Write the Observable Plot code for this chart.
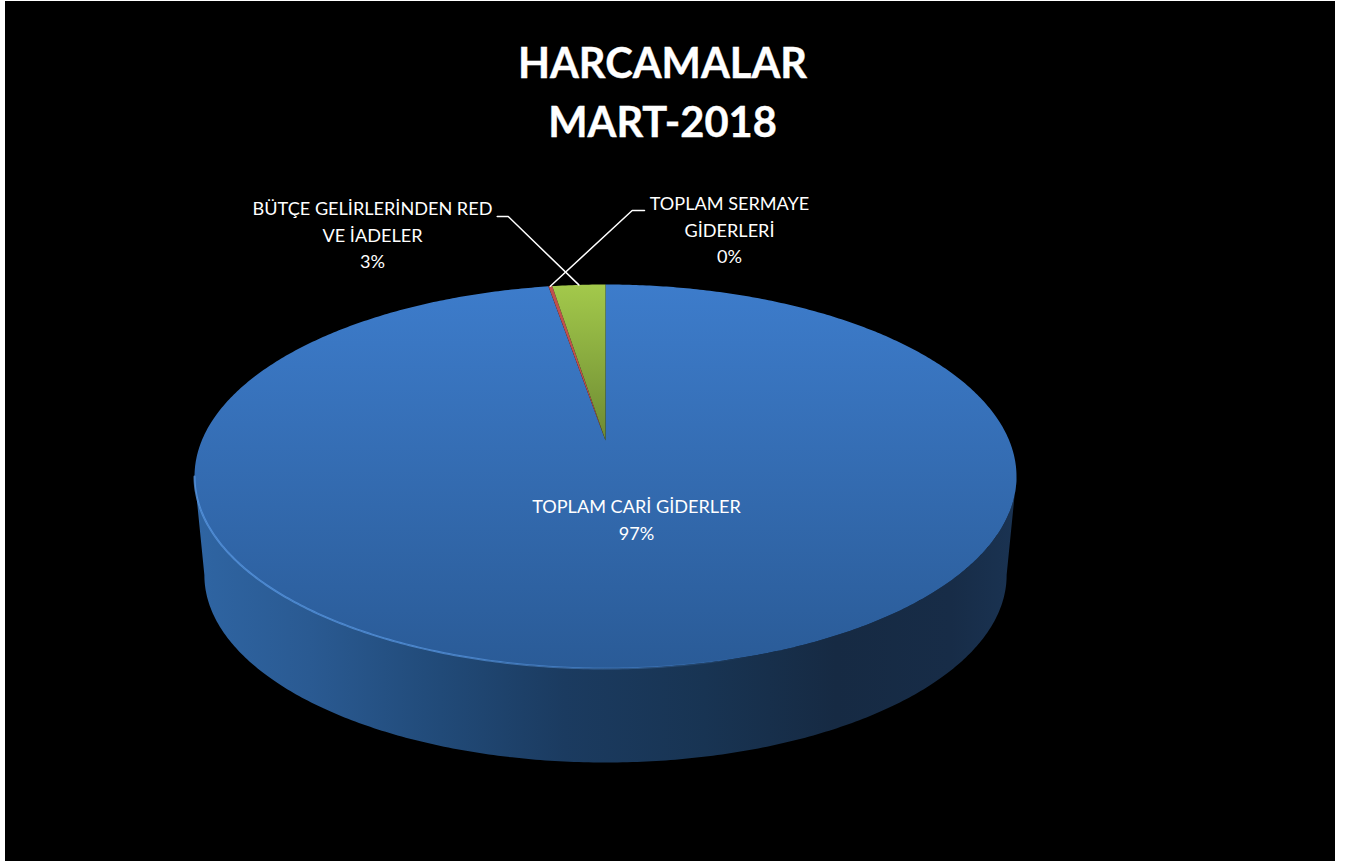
<!DOCTYPE html>
<html lang="tr">
<head>
<meta charset="utf-8">
<title>HARCAMALAR MART-2018</title>
<script src="https://cdn.jsdelivr.net/npm/d3@7"></script>
<script src="https://cdn.jsdelivr.net/npm/@observablehq/plot@0.6"></script>
<style>
  html, body { margin: 0; padding: 0; background: #fff; overflow: hidden; }
  #sheet { position: absolute; left: 5px; top: 1px; width: 1330px; height: 860px; background: #000; }
  #title { position: absolute; left: 0; top: 32px; width: 1315px; text-align: center; color: #fff;
           font: 700 41.6px/59px Lato, sans-serif; -webkit-text-stroke: 0.4px #fff; }
  #chart { position: absolute; left: 0; top: 169px; }
  #chart svg { display: block; background: #000; }
</style>
</head>
<body>
<div id="sheet">
  <div id="title">HARCAMALAR<br>MART-2018</div>
  <div id="chart"></div>
</div>
<script>
// ---- data (clockwise from 12 o'clock) ----
const categories = ["TOPLAM CARİ GİDERLER", "TOPLAM SERMAYE GİDERLERİ", "BÜTÇE GELİRLERİNDEN RED VE İADELER"];
const shares = [97.32, 0.18, 2.5];
const labelLines = ["TOPLAM CARİ GİDERLER", "TOPLAM SERMAYE\nGİDERLERİ", "BÜTÇE GELİRLERİNDEN RED\nVE İADELER"];
const fills = ["url(#topBlue)", "#c0504d", "url(#topGreen)"];

// ---- layout: svg size, pie projection, label placement (svg pixels) ----
const W = 1330, H = 691;
const apexX = 600, apexY = 270;      // pie centre as seen in perspective
const radX = 403.7, radY = 185.25;   // horizontal / vertical projected radius
const persp = 0.1875;                // perspective foreshortening
const wallDrop = 0.537;              // depth of the wall, in y units
const wallShrink = 0.976;            // base is slightly smaller than the top
const labelAt = [[631, 324], [724, 21], [367, 26]];
const elbows = [null, [[626.7, 40], [639, 40]], [[502.7, 46], [491.7, 46]]];

const toX = (px) => (px - apexX) / radX;
const toY = (py) => (apexY - py) / radY;

// project a rim point at angle t (radians clockwise from 12 o'clock)
const rim = (t, r = 1, base = false) => {
  const X = Math.sin(t) * r, Y = Math.cos(t) * r, d = 1 + persp * Y;
  const s = base ? wallShrink : 1;
  return { x: (X / d) * s, y: (Y / d) * s - (base ? wallDrop : 0) };
};
const arc = (a, b, base = false) => {
  const n = Math.max(2, Math.ceil(Math.abs(b - a) / 0.01));
  return d3.range(n + 1).map((i) => rim(a + ((b - a) * i) / n, 1, base));
};

// slices from the shares
const total = d3.sum(shares);
let run = 0;
const slices = shares.map((v, i) => {
  const a = (run / total) * 2 * Math.PI;
  run += v;
  const b = (run / total) * 2 * Math.PI;
  return { i, a, b, mid: (a + b) / 2, pct: Math.round((v / total) * 100) };
});

// side wall: front rim of the top and of the base between the tangent angles
const tangent = Math.acos(-persp);
const wall = [
  ...arc(tangent, 2 * Math.PI - tangent, false),
  ...arc(2 * Math.PI - tangent, tangent, true)
];
const bevelFront = arc(2 * Math.PI - tangent, tangent - 0.2);

const labels = slices.map((s) => ({
  x: toX(labelAt[s.i][0]),
  y: toY(labelAt[s.i][1]),
  text: labelLines[s.i] + "\n" + s.pct + "%"
}));
const leaders = slices.filter((s) => elbows[s.i]).map((s) => {
  const p = rim(s.mid);
  return [p, ...elbows[s.i].map(([x, y]) => ({ x: toX(x), y: toY(y) }))];
});

const stops = (grad, list) => {
  list.forEach(([o, c, a]) => {
    const st = grad.append("stop").attr("offset", o).attr("stop-color", c);
    if (a !== undefined) st.attr("stop-opacity", a);
  });
};
const defsMark = () => {
  const defs = d3.create("svg:defs");
  const vert = (id) => defs.append("linearGradient").attr("id", id)
    .attr("x1", 0).attr("x2", 0).attr("y1", 0).attr("y2", 1);
  const horiz = (id) => defs.append("linearGradient").attr("id", id)
    .attr("x1", 0).attr("x2", 1).attr("y1", 0).attr("y2", 0);
  stops(vert("topBlue"), [[0, "#3d7ccb"], [1, "#2a5b97"]]);
  stops(vert("topGreen"), [[0, "#a3c94b"], [1, "#6d8a32"]]);
  stops(horiz("wallBlue"), [[0, "#2f65a3"], [0.14, "#2a5a92"], [0.3, "#214a78"], [0.45, "#1b3b60"], [0.62, "#183453"], [0.78, "#162a43"], [0.92, "#172c47"], [1, "#1a3352"]]);
  stops(horiz("rimGlow"), [[0, "#5a9ae6", 0.75], [0.3, "#5a9ae6", 0.7], [0.55, "#5a9ae6", 0.3], [0.68, "#5a9ae6", 0]]);
  return defs.node();
};

const chart = Plot.plot({
  width: W,
  height: H,
  margin: 0,
  x: { domain: [-1, 1], range: [apexX - radX, apexX + radX], axis: null },
  y: { domain: [-1, 1], range: [apexY + radY, apexY - radY], axis: null },
  style: { background: "#000" },
  marks: [
    defsMark,
    Plot.line(wall, { x: "x", y: "y", fill: "url(#wallBlue)", stroke: "none" }),
    ...slices.map((s) => {
      const pts = [{ x: 0, y: 0 }, ...arc(s.a, s.b)];
      return Plot.line(pts, { x: "x", y: "y", fill: fills[s.i], stroke: "none" });
    }),
    Plot.line(bevelFront, { x: "x", y: "y", stroke: "url(#rimGlow)", strokeWidth: 2, fill: "none", imageFilter: "blur(0.7px)" }),
    ...leaders.map((l) => Plot.line(l, { x: "x", y: "y", stroke: "#fff", strokeWidth: 1.5 })),
    Plot.text(labels, {
      x: "x", y: "y", text: "text", fill: "#fff", lineHeight: 1.46,
      fontSize: 18.1, fontFamily: "Lato, sans-serif", textAnchor: "middle", lineAnchor: "top"
    })
  ]
});
document.getElementById("chart").append(chart);
</script>
</body>
</html>
